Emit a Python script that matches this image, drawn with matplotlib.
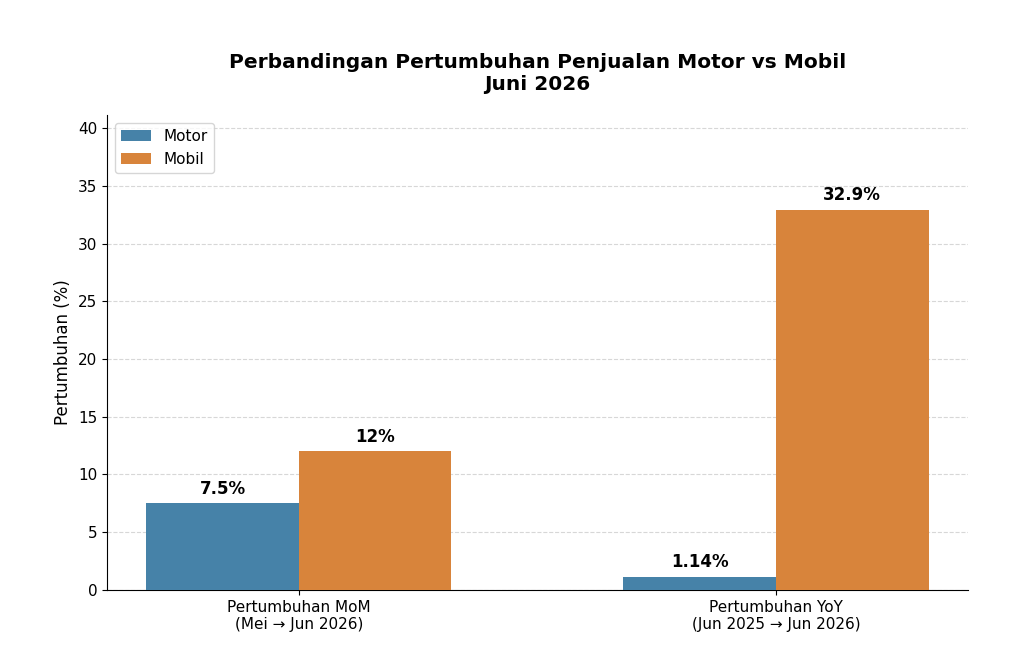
import numpy as np
import matplotlib
matplotlib.use("Agg")
import matplotlib.pyplot as plt

categories = ["Pertumbuhan MoM\n(Mei \u2192 Jun 2026)", "Pertumbuhan YoY\n(Jun 2025 \u2192 Jun 2026)"]
motor = [7.5, 1.14]
mobil = [12, 32.9]
motor_labels = ["7.5%", "1.14%"]
mobil_labels = ["12%", "32.9%"]

fig = plt.figure(figsize=(10.24, 6.62), dpi=100)
ax = fig.add_axes([0.1045, 0.109, 0.8405, 0.717])

x = np.arange(len(categories))
w = 0.32
b1 = ax.bar(x - w / 2, motor, w, color="#4682a8", label="Motor", zorder=3)
b2 = ax.bar(x + w / 2, mobil, w, color="#d8843b", label="Mobil", zorder=3)

# value labels above each bar
for bars, labels in [(b1, motor_labels), (b2, mobil_labels)]:
    for bar, lab in zip(bars, labels):
        ax.text(bar.get_x() + bar.get_width() / 2, bar.get_height() + 0.5, lab,
                ha="center", va="bottom", fontsize=12, fontweight="bold")

ax.set_ylim(0, max(mobil) * 1.25)
ax.set_yticks(np.arange(0, 41, 5))
ax.set_xticks(x)
ax.set_xticklabels(categories, fontsize=11)
ax.tick_params(axis="y", labelsize=11)
ax.set_ylabel("Pertumbuhan (%)", fontsize=12)
ax.set_title("Perbandingan Pertumbuhan Penjualan Motor vs Mobil\nJuni 2026",
             fontsize=14.5, fontweight="bold", pad=18)
ax.grid(axis="y", linestyle="--", alpha=0.5, zorder=0)
ax.spines["top"].set_visible(False)
ax.spines["right"].set_visible(False)
ax.legend(loc="upper left", fontsize=11)

fig.savefig("out.png", dpi=100)
